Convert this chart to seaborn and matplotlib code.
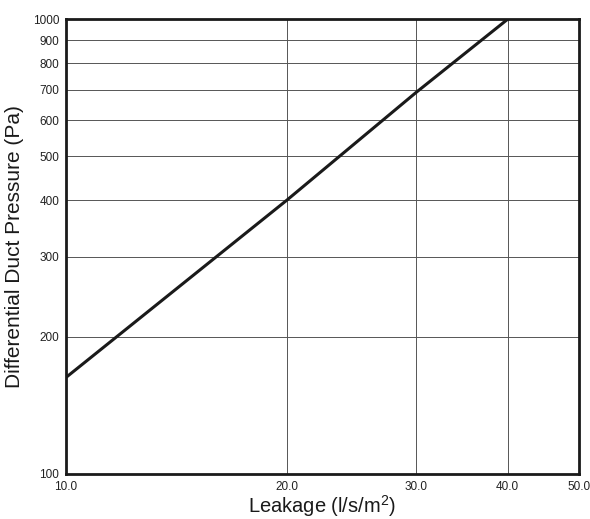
import numpy as np
import pandas as pd
import seaborn as sns
import matplotlib.pyplot as plt
from matplotlib.ticker import FixedLocator, FixedFormatter, NullLocator

leakage = [10.0, 20.0, 30.0, 40.0]
pressure = [163, 400, 690, 1000]
x_ticks = [10.0, 20.0, 30.0, 40.0, 50.0]
y_ticks = [100, 200, 300, 400, 500, 600, 700, 800, 900, 1000]

data = pd.DataFrame({'Leakage': leakage, 'Pressure': pressure})

sns.set_style('white')
plt.rcParams['font.family'] = ['Liberation Sans', 'DejaVu Sans']
plt.rcParams['mathtext.fontset'] = 'custom'
plt.rcParams['mathtext.rm'] = 'Liberation Sans'
plt.rcParams['mathtext.it'] = 'Liberation Sans'

fig = plt.figure(figsize=(5.9, 5.19), dpi=100)
ax = fig.add_axes([0.112, 0.087, 0.869, 0.876])

sns.lineplot(data=data, x='Leakage', y='Pressure', color='#1a1a1a', linewidth=2.2, ax=ax)

ax.set_xscale('log')
ax.set_yscale('log')
ax.set_xlim(10, 50)
ax.set_ylim(100, 1000)

ax.xaxis.set_major_locator(FixedLocator(x_ticks))
ax.xaxis.set_major_formatter(FixedFormatter([f'{v:.1f}' for v in x_ticks]))
ax.xaxis.set_minor_locator(NullLocator())
ax.yaxis.set_major_locator(FixedLocator(y_ticks))
ax.yaxis.set_major_formatter(FixedFormatter([str(v) for v in y_ticks]))
ax.yaxis.set_minor_locator(NullLocator())

ax.grid(True, which='major', color='#555555', linewidth=0.7)
for s in ax.spines.values():
    s.set_linewidth(2.0)
    s.set_color('#1a1a1a')

ax.tick_params(axis='both', labelsize=8.5, colors='#222222', length=2, width=1, pad=3)
ax.set_xlabel('Leakage (l/s/m$\\mathregular{^{2}}$)', fontsize=14.5, color='#1a1a1a', labelpad=0)
ax.set_ylabel('Differential Duct Pressure (Pa)', fontsize=15, color='#1a1a1a', labelpad=6)

fig.savefig('out.png', dpi=100)
